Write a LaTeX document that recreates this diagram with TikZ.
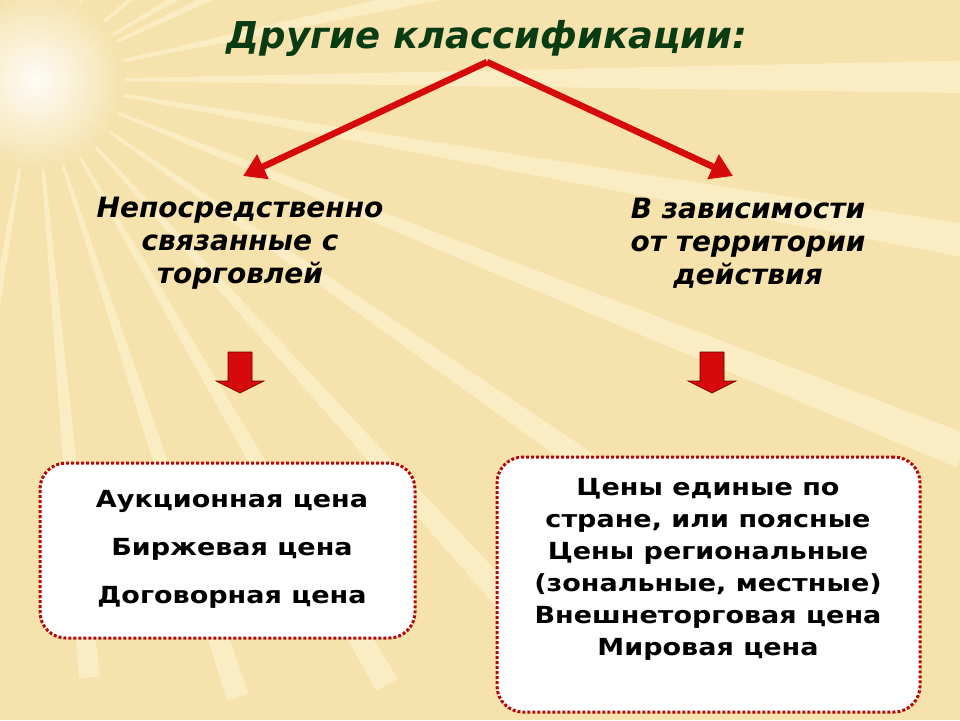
\documentclass[tikz,border=0pt]{standalone}
\usepackage{fontspec}
\setmainfont{DejaVu Sans}
\newfontfamily\widefont{DejaVu Sans}[FakeStretch=1.15]
\usetikzlibrary{arrows.meta}
\definecolor{bg}{RGB}{246,226,172}
\definecolor{ray}{RGB}{255,246,214}
\definecolor{titlegreen}{RGB}{10,60,20}
\definecolor{redarr}{RGB}{214,10,10}
\tikzset{
  heading/.style={align=center,font=\bfseries\itshape\fontsize{28}{33}\selectfont,text=black},
  boxt/.style={align=center,font=\widefont\bfseries\fontsize{23.5}{32}\selectfont},
  dbox/.style={draw=redarr!85!black,line width=3pt,dotted,fill=white,rounded corners=26pt},
  bigarrow/.style={draw=redarr,line width=6.5pt,-{Triangle[length=22pt,width=26pt]}},
  blockarr/.style={fill=redarr,draw=red!40!black,line width=0.6pt}
}
\begin{document}
\begin{tikzpicture}[x=1pt,y=-1pt]
\useasboundingbox (0,0) rectangle (960,720);
\fill[bg] (0,0) rectangle (960,720);
\foreach \a/\l in {-40/700,-25/900,-12/1000,0/1100,10/1000,22/1000,35/900,48/800,60/700,72/650,85/600,100/500,120/300,150/200,200/150,250/150,300/200,330/300}{
  \fill[ray,opacity=0.55] (35,80) -- ++({\a-1.2}:\l) -- ++({\a+90}:{\l*0.035}) -- cycle;
}
\shade[inner color=white,outer color=bg,opacity=0.9] (35,80) circle (90);
\node[font=\bfseries\itshape\fontsize{37}{40}\selectfont,text=titlegreen] (title) at (487,38) {Другие классификации:};
\coordinate (apex) at (487,62);
\node[heading] (h1) at (240,243) {Непосредственно\\связанные с\\торговлей};
\node[heading] (h2) at (748,243) {В зависимости\\от территории\\действия};
\coordinate (t1) at (243,176);
\coordinate (t2) at (733,176);
\draw[bigarrow] (apex) -- (t1);
\draw[bigarrow] (apex) -- (t2);
\foreach \cx/\nm in {240/ba1,712/ba2}{
  \draw[blockarr] (\cx-12,352) -- (\cx+12,352) -- (\cx+12,381) -- (\cx+24,381) -- (\cx,393) -- (\cx-24,381) -- (\cx-12,381) -- cycle;
}
\node[dbox,minimum width=375pt,minimum height=175pt] (b1) at (227.5,550.5) {};
\node[boxt,font=\widefont\bfseries\fontsize{23.5}{48}\selectfont] at (232,549) {Аукционная цена\\Биржевая цена\\Договорная цена};
\node[dbox,minimum width=423pt,minimum height=255pt] (b2) at (708.5,584.5) {};
\node[boxt] at (708,569) {Цены единые по\\стране, или поясные\\Цены региональные\\(зональные, местные)\\Внешнеторговая цена\\Мировая цена};
\end{tikzpicture}
\end{document}
